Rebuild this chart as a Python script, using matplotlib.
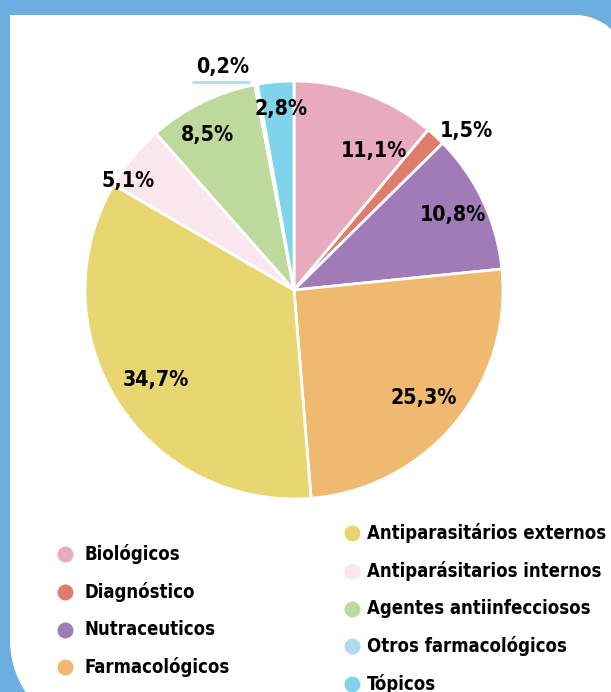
import numpy as np
import matplotlib
matplotlib.use('Agg')
from matplotlib import pyplot as plt
from matplotlib import font_manager as fm
from matplotlib.patches import Polygon

categories = ['Biológicos', 'Diagnóstico', 'Nutraceuticos', 'Farmacológicos',
              'Antiparasitários externos', 'Antiparásitarios internos',
              'Agentes antiinfecciosos', 'Otros farmacológicos', 'Tópicos']
shares = [11.1, 1.5, 10.8, 25.3, 34.7, 5.1, 8.5, 0.2, 2.8]
pct_labels = ['11,1%', '1,5%', '10,8%', '25,3%', '34,7%', '5,1%', '8,5%', '0,2%', '2,8%']
colors = ['#e8aabd', '#e07c6b', '#a07bb8', '#efba70', '#e8d673',
          '#f9e7ed', '#bdd99c', '#b3dbf0', '#7fd3ea']

# label placement: fraction of radius, angle nudge (deg)
label_r = [0.77, 1.12, 0.84, 0.81, 0.79, 0.95, 0.85, 1.12, 0.87]
label_shift = [-10, -4.7, 0, 0, 1, 6, 3, 7.3, -1]


def pick_font():
    # look for a bold condensed face, the reference uses one
    order = {'extra-condensed': 0, 'condensed': 1, 'semi-condensed': 2}
    best = None
    for f in fm.fontManager.ttflist:
        st = str(f.stretch).lower()
        w = f.weight if isinstance(f.weight, int) else (700 if 'bold' in str(f.weight) else 400)
        if st in order and 600 <= w <= 900 and f.style == 'normal':
            key = (order[st], abs(w - 700))
            if best is None or key < best[0]:
                best = (key, f.fname)
    if best:
        return fm.FontProperties(fname=best[1])
    for name in ['Liberation Sans Narrow', 'Roboto Condensed']:
        try:
            path = fm.findfont(fm.FontProperties(family=name, weight='bold'),
                               fallback_to_default=False)
            return fm.FontProperties(fname=path)
        except Exception:
            pass
    return fm.FontProperties(family='Liberation Sans', weight='bold')


fp = pick_font()

W, H = 611, 692
def Y(y):
    return H - y

fig = plt.figure(figsize=(W / 100, H / 100), dpi=100)
fig.patch.set_facecolor('#6caee0')
ax = fig.add_axes([0, 0, 1, 1])
renderer = fig.canvas.get_renderer()


def fit_size(text, base, target_px):
    t = fig.text(0, 0, text, fontproperties=fp, fontsize=base)
    w = t.get_window_extent(renderer).width
    t.remove()
    return base * target_px / w


leg_size = fit_size('Antiparasitários externos', 16, 241)
pct_size = fit_size('34,7%', 19, 66)

# white card with rounded top-right and bottom-left corners
t1 = np.linspace(np.pi / 2, 0, 30)
t2 = np.linspace(np.pi, 1.5 * np.pi, 30)
pts = [(10, 15)]
pts += [(575 + 53 * np.cos(t), 68 - 53 * np.sin(t)) for t in t1]
pts += [(628, 760), (105, 760)]
pts += [(105 + 95 * np.cos(t), 640 - 95 * np.sin(t)) for t in t2[::-1]]
card = Polygon([(x, Y(y)) for x, y in pts], closed=True, facecolor='white',
               edgecolor='none', zorder=0)
ax.add_patch(card)

wedges, _ = ax.pie(shares, colors=colors, startangle=90, counterclock=False,
                   center=(294, Y(290)), radius=209,
                   wedgeprops=dict(edgecolor='white', linewidth=2))

for w, lab, rf, da in zip(wedges, pct_labels, label_r, label_shift):
    ang = np.deg2rad((w.theta1 + w.theta2) / 2 + da)
    x = w.center[0] + rf * w.r * np.cos(ang)
    y = w.center[1] + rf * w.r * np.sin(ang)
    ax.text(x, y, lab, ha='center', va='center', fontproperties=fp,
            fontsize=pct_size, color='black', zorder=5)
    if lab == '0,2%':
        ax.plot([x - 31, x + 27], [y - 15, y - 15], color=colors[7],
                lw=2, solid_capstyle='butt', zorder=5)

# legend, two columns
for i in range(4):
    y = Y(554 + 37.8 * i)
    ax.plot(65, y, 'o', ms=11.5, color=colors[i], mec='none')
    ax.text(85, y, categories[i], ha='left', va='center', fontproperties=fp,
            fontsize=leg_size)
for j in range(4, 9):
    y = Y(533 + 37.8 * (j - 4))
    ax.plot(352, y, 'o', ms=11.5, color=colors[j], mec='none')
    ax.text(367, y, categories[j], ha='left', va='center', fontproperties=fp,
            fontsize=leg_size)

ax.set_xlim(0, W)
ax.set_ylim(0, H)
ax.set_aspect('equal')
ax.axis('off')

fig.savefig('out.png', dpi=100, facecolor=fig.get_facecolor())
